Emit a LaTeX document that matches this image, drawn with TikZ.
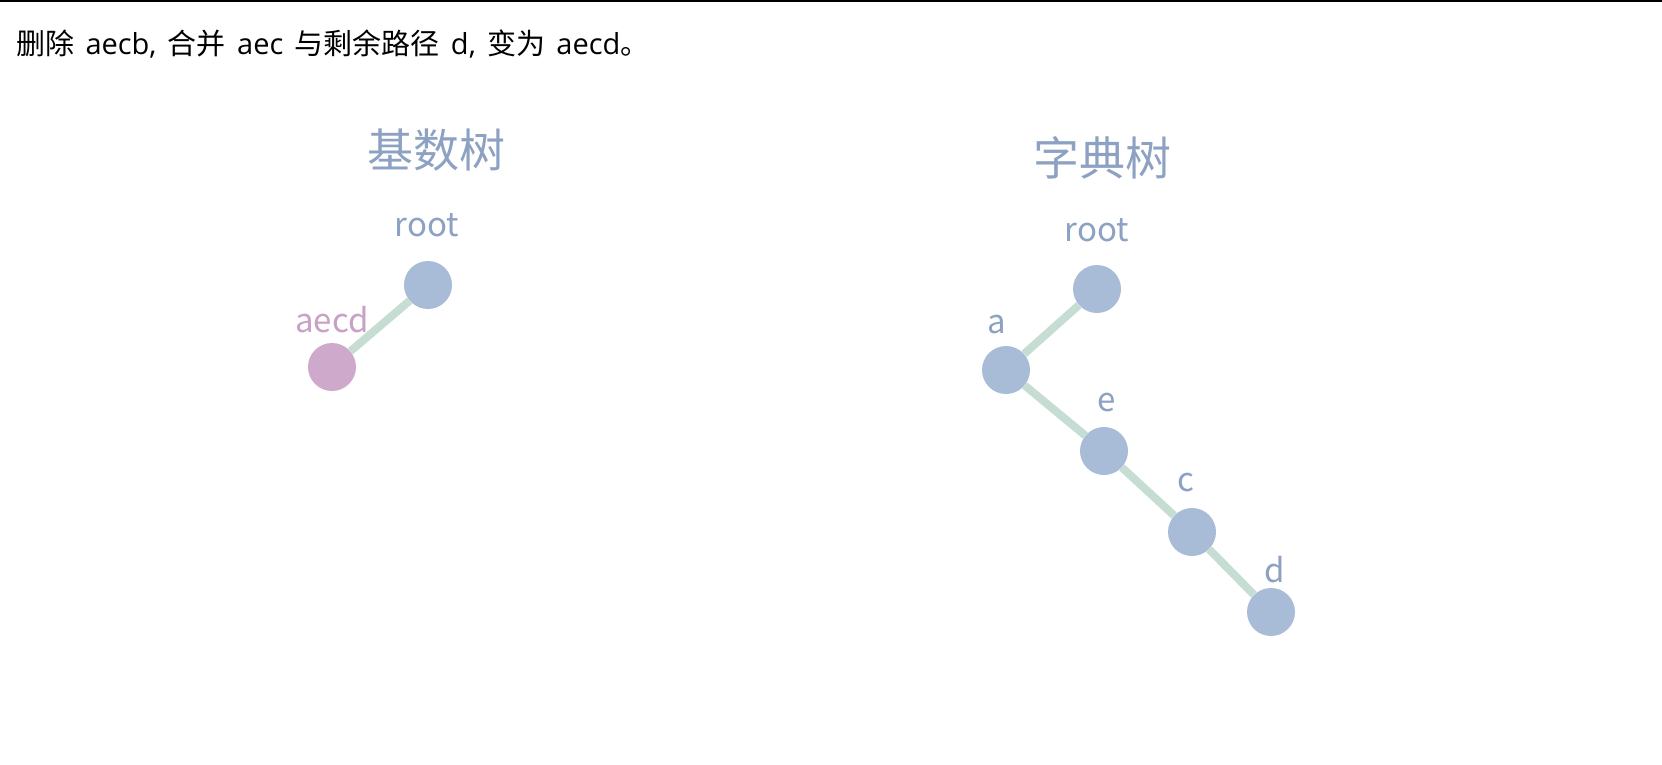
\documentclass[tikz,border=0pt]{standalone}
\usepackage{fontspec}
\setmainfont{Noto Sans CJK SC}
\newfontfamily\latinfont[WordSpace=1.5]{Open Sans}
\newcommand{\lt}[1]{{\latinfont #1}}
\definecolor{nodeblue}{HTML}{A8BCD7}
\definecolor{nodepink}{HTML}{CFA9CB}
\definecolor{linkgreen}{HTML}{C6DDD3}
\definecolor{textblue}{HTML}{8DA2C2}
\definecolor{textpink}{HTML}{C9A0C6}

\begin{document}
\begin{tikzpicture}[x=1pt,y=-1pt,
	tnode/.style={circle,fill=nodeblue,minimum size=48pt,inner sep=0pt},
	link/.style={draw=linkgreen,line width=8pt},
	lbl/.style={text=textblue,inner sep=0pt,font=\fontsize{33}{33}\selectfont},
	treetitle/.style={text=textblue,inner sep=0pt,font=\fontsize{46}{46}\selectfont},]
	\useasboundingbox[fill=white] (0,0) rectangle (1662,765);
	\draw[line width=2pt] (0,1) -- (1662,1);
	\node (caption) [anchor=base west,inner sep=0pt,font=\fontsize{29}{29}\selectfont] at (16,55) {删除\lt{ aecb, }合并\lt{ aec }与剩余路径\lt{ d, }变为\lt{ aecd}。};

	% radix tree
	\node (radixT) [treetitle] at (436,150) {基数树};
	\node (rRoot) [tnode] at (428,285) {};
	\node (rAecd) [tnode,fill=nodepink] at (332,367) {};
	\node (rRootL) [lbl] at (427,225) {root};
	\node (rAecdL) [lbl,text=textpink] at (332,320) {aecd};

	% trie
	\node (trieT) [treetitle] at (1102,158) {字典树};
	\node (tRoot) [tnode] at (1097,289) {};
	\node (tA) [tnode] at (1006,370) {};
	\node (tE) [tnode] at (1104,451) {};
	\node (tC) [tnode] at (1192,532) {};
	\node (tD) [tnode] at (1271,612) {};
	\node (tRootL) [lbl] at (1097,230) {root};
	\node (tAL) [lbl] at (997,325) {a};
	\node (tEL) [lbl] at (1107,403) {e};
	\node (tCL) [lbl] at (1186,483) {c};
	\node (tDL) [lbl] at (1275,570) {d};

	% connections
	\draw[link] (rRoot) -- (rAecd);
	\draw[link] (tRoot) -- (tA);
	\draw[link] (tA) -- (tE);
	\draw[link] (tE) -- (tC);
	\draw[link] (tC) -- (tD);
\end{tikzpicture}
\end{document}
